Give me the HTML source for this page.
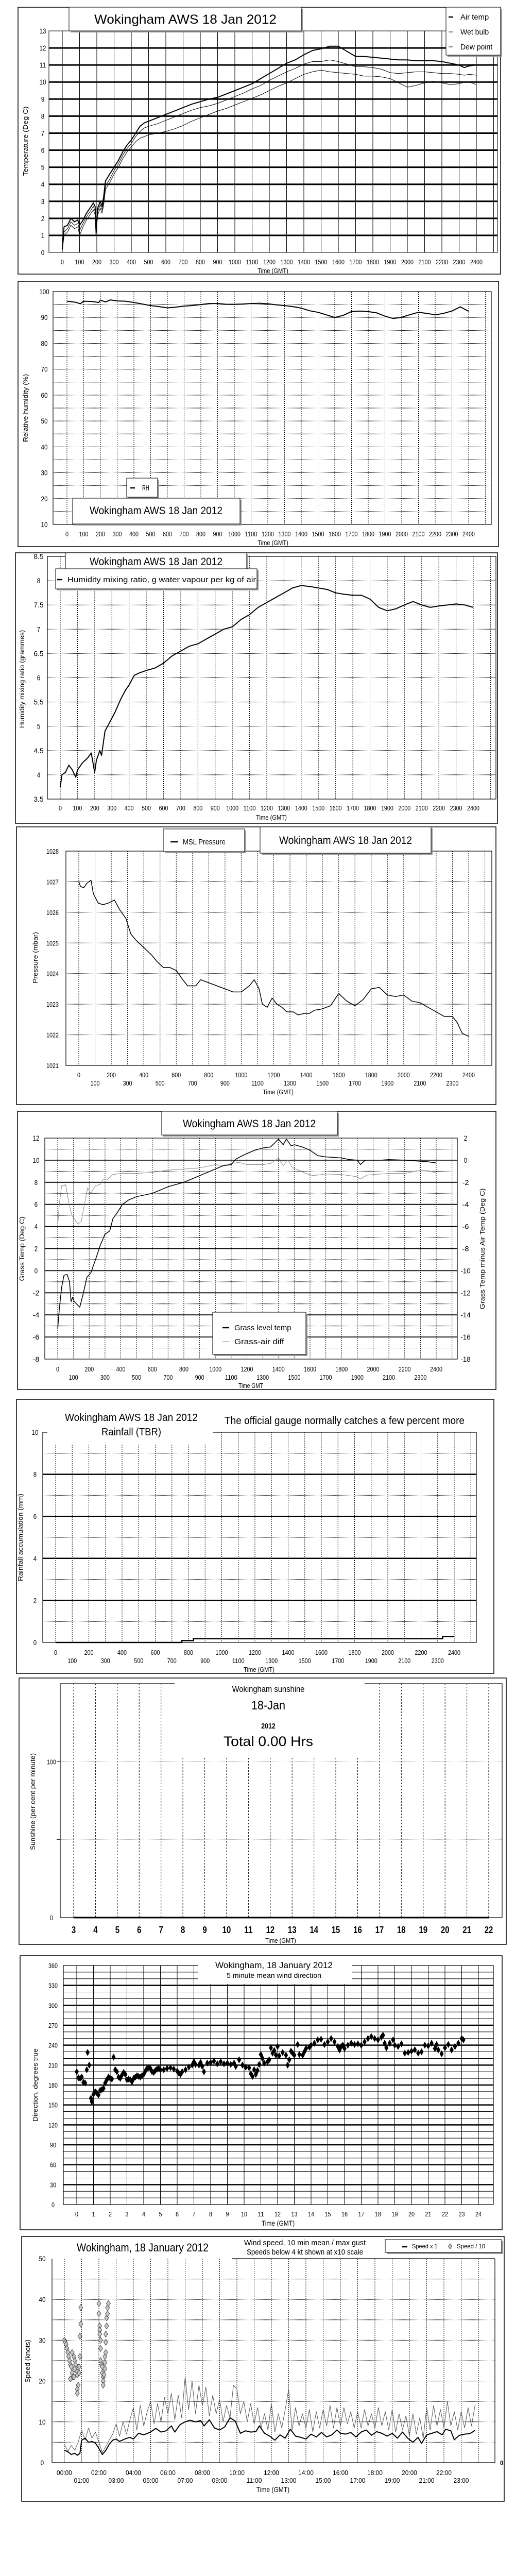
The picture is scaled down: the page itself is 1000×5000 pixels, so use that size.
<!DOCTYPE html>
<html><head><meta charset="utf-8">
<style>
html,body{margin:0;padding:0;background:#fff;}
svg{display:block;}
text{font-family:"Liberation Sans Narrow","Liberation Sans",sans-serif;fill:#000;}
.wide{font-family:"Liberation Sans",sans-serif;}
</style></head>
<body>
<svg id="chart" xmlns="http://www.w3.org/2000/svg" width="1000" height="5000" viewBox="0 0 1000 5000"></svg>
<script>
// ---------- DATA ----------
const tempHours=[0,0.1,0.3,0.5,0.7,0.9,1.0,1.2,1.4,1.6,1.8,1.9,1.95,2.05,2.2,2.3,2.4,2.5,2.75,3,3.25,3.5,3.75,4,4.25,4.5,4.75,5,5.5,6,6.5,7,7.5,8,8.5,9,9.5,10,10.5,11,11.5,12,12.5,13,13.5,14,14.5,15,15.5,16,16.5,17,17.5,18,18.5,19,19.5,20,20.5,21,21.5,22,22.5,23,23.3,23.6,24];
const airTemp=[0.2,1.5,1.6,2.0,1.8,1.9,1.6,1.9,2.3,2.6,2.9,2.7,1.4,2.6,3.0,2.7,3.3,4.2,4.6,5.0,5.4,5.9,6.3,6.6,7.0,7.4,7.6,7.7,7.9,8.1,8.3,8.5,8.7,8.85,9.0,9.1,9.3,9.5,9.7,9.9,10.2,10.5,10.8,11.1,11.3,11.6,11.85,11.95,12.1,12.1,11.8,11.5,11.5,11.45,11.4,11.35,11.3,11.3,11.25,11.25,11.25,11.2,11.1,11.0,10.85,10.95,11.0];
const wetBulb=[0.2,1.2,1.4,1.8,1.6,1.7,1.3,1.7,2.1,2.4,2.7,2.4,1.2,2.4,2.8,2.5,3.0,3.9,4.3,4.8,5.2,5.7,6.1,6.4,6.8,7.1,7.3,7.4,7.55,7.75,7.95,8.15,8.35,8.5,8.6,8.75,8.95,9.15,9.35,9.6,9.8,10.1,10.35,10.6,10.8,11.05,11.2,11.2,11.3,11.2,11.05,10.9,10.9,10.85,10.75,10.55,10.5,10.55,10.6,10.6,10.55,10.5,10.5,10.45,10.4,10.45,10.4];
const dewPoint=[0.1,1.0,1.2,1.6,1.4,1.5,1.0,1.5,1.9,2.2,2.5,2.2,1.0,2.2,2.6,2.3,2.8,3.7,4.1,4.6,5.0,5.5,5.9,6.2,6.5,6.7,6.8,6.9,7.0,7.1,7.25,7.45,7.7,7.9,8.1,8.3,8.45,8.65,8.85,9.05,9.25,9.5,9.75,9.95,10.2,10.45,10.6,10.7,10.6,10.55,10.5,10.45,10.35,10.35,10.3,10.2,9.95,9.7,9.8,9.95,10.05,9.95,9.85,9.9,10.0,10.0,9.85];
const rhHours=[0,0.5,0.8,1,1.5,1.9,2,2.3,2.6,3,3.5,4,4.5,5,5.5,6,6.5,7,7.5,8,8.5,9,9.5,10,10.5,11,11.5,12,12.5,13,13.5,14,14.5,15,15.5,16,16.5,17,17.5,18,18.5,19,19.5,20,20.5,21,21.5,22,22.5,23,23.5,24];
const rhValues=[96.3,95.9,95.3,96.3,96.2,95.8,96.7,96.0,96.8,96.4,96.3,95.8,95.2,94.6,94.2,93.7,94.0,94.4,94.6,95.0,95.4,95.4,95.1,95.1,95.2,95.4,95.5,95.3,94.9,94.6,94.2,93.6,92.6,92.0,91.0,90.0,90.8,92.3,92.5,92.3,91.8,90.5,89.6,90.1,91.1,92.0,91.6,91.0,91.6,92.5,94.1,92.4];
const mixHours=[0,0.1,0.3,0.5,0.7,0.9,1,1.3,1.6,1.8,2,2.1,2.3,2.4,2.6,2.9,3.2,3.5,3.8,4,4.3,4.6,5,5.5,6,6.5,7,7.5,8,8.5,9,9.5,10,10.5,11,11.5,12,12.5,13,13.5,14,14.5,15,15.5,16,16.5,17,17.5,18,18.5,19,19.5,20,20.5,21,21.5,22,22.5,23,23.5,24];
const mixValues=[3.75,4.0,4.05,4.2,4.1,3.95,4.1,4.25,4.35,4.45,4.05,4.3,4.5,4.4,4.9,5.1,5.3,5.55,5.75,5.85,6.05,6.1,6.15,6.2,6.3,6.45,6.55,6.65,6.7,6.8,6.9,7.0,7.05,7.2,7.3,7.45,7.55,7.65,7.75,7.85,7.9,7.88,7.85,7.82,7.75,7.72,7.7,7.7,7.62,7.45,7.38,7.42,7.5,7.57,7.5,7.45,7.48,7.5,7.52,7.5,7.45];
const presHours=[0,0.1,0.3,0.5,0.75,0.9,1.2,1.5,1.8,2.2,2.5,2.9,3.2,3.5,4,4.5,4.8,5.2,5.6,6,6.4,6.7,7.2,7.5,8,8.5,9,9.5,10,10.5,10.8,11.1,11.3,11.6,11.9,12.2,12.5,12.8,13.2,13.5,13.9,14.2,14.5,15,15.5,16,16.5,17,17.5,18,18.5,19,19.5,20,20.5,21,21.5,22,22.5,23,23.3,23.6,24];
const presValues=[1027.0,1026.85,1026.8,1026.95,1027.05,1026.6,1026.3,1026.25,1026.3,1026.4,1026.1,1025.8,1025.3,1025.1,1024.85,1024.6,1024.4,1024.2,1024.2,1024.1,1023.8,1023.6,1023.6,1023.8,1023.7,1023.6,1023.5,1023.4,1023.4,1023.6,1023.8,1023.5,1023.0,1022.9,1023.2,1023.0,1022.9,1022.75,1022.75,1022.65,1022.7,1022.7,1022.8,1022.85,1022.95,1023.35,1023.1,1022.95,1023.15,1023.5,1023.55,1023.3,1023.25,1023.3,1023.1,1023.05,1022.9,1022.75,1022.6,1022.6,1022.4,1022.05,1021.95];
const grassHours=[0,0.1,0.25,0.4,0.6,0.75,0.85,0.95,1.05,1.4,1.6,1.85,2.1,2.4,2.7,3.0,3.3,3.5,3.8,4.1,4.5,5,6,7,8,9,10,10.5,11,11.3,11.7,12,12.5,13,13.5,14,14.3,14.5,14.8,15,15.5,16,16.5,17,17.5,18,18.5,19,19.2,19.5,20,20.5,21,22,22.5,23,23.5,24];
const grassTemp=[-5.3,-3.5,-1.5,-0.4,-0.35,-1.0,-2.8,-2.4,-2.8,-3.3,-2.2,-0.6,-0.2,1.0,2.3,3.3,3.6,4.7,5.3,6.0,6.4,6.7,7.0,7.6,8.0,8.6,9.2,9.5,9.6,10.1,10.4,10.6,10.9,11.1,11.2,11.9,11.4,11.9,11.3,11.4,11.2,10.9,10.4,10.3,10.25,10.2,10.05,10.0,9.6,10.0,10.0,10.0,10.05,10.0,9.95,9.9,9.85,9.75];
const diffHours=[0,0.1,0.25,0.4,0.5,0.7,0.9,1.3,1.5,1.9,2.1,2.4,2.7,2.9,3.1,3.5,4,5,6,7,8,9,10,10.5,11,11.5,12,12.5,13,13.5,14,14.3,14.6,14.9,15.3,15.7,16.2,17,18,18.5,19,19.2,19.6,20,21,22,22.5,23,23.5,24];
const grassAirDiff=[-6.0,-4.0,-2.3,-2.3,-2.2,-3.8,-5.0,-5.8,-5.5,-2.5,-3.0,-2.3,-2.2,-1.7,-1.8,-1.3,-1.2,-1.2,-1.1,-0.9,-0.8,-0.7,-0.4,-0.5,-0.3,-0.2,-0.4,-0.4,-0.4,-0.3,0.2,-0.5,0.0,-0.7,-0.9,-1.2,-1.4,-1.25,-1.3,-1.4,-1.5,-1.7,-1.35,-1.3,-1.2,-1.2,-1.05,-0.9,-0.95,-1.15];
const rainHours=[0,7.6,8.3,23.3,24];
const rainValues=[0,0.09,0.18,0.28,0.28];
const sunHours=[3,22];
const sunValues=[0,0];
const sunTickLabels=[3,4,5,6,7,8,9,10,11,12,13,14,15,16,17,18,19,20,21,22];
const dirHours=[0.0,0.1,0.2,0.3,0.4,0.5,0.6,0.65,0.75,0.85,0.9,1.0,1.1,1.2,1.3,1.4,1.5,1.6,1.7,1.8,1.9,2.0,2.1,2.2,2.3,2.4,2.5,2.6,2.7,2.8,2.9,3.0,3.1,3.2,3.3,3.4,3.5,3.6,3.7,3.8,3.9,4.0,4.1,4.2,4.3,4.4,4.5,4.6,4.7,4.8,4.9,5.0,5.2,5.4,5.6,5.8,6.0,6.1,6.2,6.3,6.5,6.7,6.9,7.0,7.1,7.3,7.4,7.5,7.6,7.8,8.0,8.2,8.4,8.6,8.8,9.0,9.2,9.4,9.5,9.7,9.9,10.1,10.3,10.4,10.5,10.6,10.7,10.8,10.9,11.0,11.1,11.2,11.4,11.5,11.6,11.7,11.8,11.9,12.0,12.1,12.3,12.5,12.6,12.7,12.8,12.9,13.0,13.2,13.3,13.5,13.6,13.7,13.9,14.0,14.2,14.4,14.6,14.8,15.0,15.2,15.4,15.6,15.7,15.8,15.9,16.0,16.2,16.4,16.6,16.8,17.0,17.2,17.4,17.6,17.8,18.0,18.2,18.3,18.4,18.5,18.7,18.9,19.0,19.2,19.4,19.6,19.8,20.0,20.2,20.4,20.6,20.8,21.0,21.2,21.4,21.5,21.6,21.8,22.0,22.2,22.4,22.6,22.8,23.0,23.1];
const dirDegrees=[200,191,190,192,184,183,203,229,210,160,155,166,170,168,165,172,173,175,183,188,192,190,189,222,203,200,192,190,195,199,196,188,189,188,185,190,192,194,193,192,194,196,201,205,206,205,200,199,202,204,205,203,203,205,206,204,201,198,196,200,203,207,210,215,211,210,214,208,200,213,214,216,212,215,212,213,211,213,208,218,210,207,206,197,193,203,196,202,211,226,220,213,215,218,236,228,232,225,238,224,229,225,210,218,231,228,225,241,226,225,230,235,237,240,243,248,249,241,245,250,245,238,233,238,240,235,240,243,241,242,240,245,250,253,250,248,252,255,243,236,243,248,240,238,242,228,229,231,233,228,230,240,239,243,235,241,233,227,236,241,233,238,243,250,248];
const meanHours=[0,0.2,0.4,0.6,0.75,0.9,1.0,1.2,1.4,1.6,1.8,2.0,2.2,2.4,2.6,2.8,3.0,3.2,3.5,3.8,4.0,4.3,4.6,5.0,5.3,5.6,5.9,6.2,6.4,6.7,7.0,7.3,7.6,7.9,8.1,8.4,8.7,9.0,9.3,9.6,9.9,10.2,10.5,10.8,11.1,11.3,11.6,11.9,12.2,12.5,12.8,13.1,13.4,13.7,14.0,14.3,14.6,14.9,15.2,15.5,15.8,16.0,16.3,16.6,16.9,17.2,17.5,17.8,18.1,18.4,18.7,19.0,19.3,19.6,19.9,20.2,20.5,20.7,21.0,21.3,21.6,21.9,22.1,22.4,22.6,22.9,23.2,23.5,23.8];
const meanSpeed=[3.0,2.7,2.0,2.3,1.8,2.3,5.5,6.0,5.0,5.2,4.8,3.5,2.0,3.0,4.5,5.5,5.8,5.2,5.8,6.2,5.8,7.2,6.8,7.5,8.4,7.5,7.8,9.0,7.5,9.3,10.0,10.4,10.0,10.3,9.0,10.5,8.5,8.0,8.8,11.0,10.2,7.2,7.8,7.5,7.6,9.0,7.2,6.5,5.5,6.8,6.0,8.2,6.5,6.2,5.8,7.0,6.3,7.4,6.3,6.8,8.0,7.2,7.0,7.4,6.3,7.5,8.0,6.7,7.6,7.2,6.5,7.2,6.0,7.5,6.0,5.0,6.2,4.7,6.8,7.2,7.6,6.8,8.2,7.8,5.6,6.7,7.0,7.1,7.9];
const GUST_STEP_HOURS=0.2;
const gustSpeed=[4.5,2.8,4.2,3.0,5.0, 8.0,5.5,8.5,6.0,7.5, 5.0,2.5,4.0,5.5,7.0, 9.5,6.5,10.0,7.0,10.5, 13.5,8.0,14.0,9.0,12.5, 15.0,9.5,14.5,10.0,16.0, 12.0,17.0,10.5,16.5,11.0, 21.0,13.0,20.0,12.0,19.0, 14.0,18.5,11.5,16.5,12.0, 15.5,10.0,14.0,11.0,19.0, 18.0,12.0,15.0,10.0,14.5, 9.5,13.5,8.5,12.0,8.0, 14.5,7.5,12.0,8.5,13.0, 18.0,8.0,13.5,9.0,12.0, 8.5,13.0,7.5,12.5,8.5, 13.0,9.0,14.0,8.5,13.5, 9.0,13.5,9.5,12.5,8.5, 12.5,8.5,13.0,9.0,12.0, 8.5,13.5,9.0,12.5,8.0, 13.0,7.5,12.0,8.0,11.5, 6.5,12.0,7.0,11.0,6.0, 13.5,8.0,14.0,9.0,13.0, 8.5,15.0,9.0,12.5,8.0, 12.5,8.5,13.5,9.0,14.0];
const lowHours=[0.0,0.05,0.1,0.15,0.2,0.25,0.3,0.35,0.4,0.45,0.5,0.35,0.45,0.55,0.6,0.65,0.7,0.75,0.8,0.75,0.75,0.85,0.85,0.9,0.9,0.95,0.95,0.55,0.6,2.0,2.0,2.05,2.05,2.05,2.1,2.1,2.1,2.15,2.2,2.2,2.25,2.25,2.25,2.3,2.35,2.35,2.35,2.4,2.4,2.4,2.45,2.45,2.5,2.5,2.55];
const lowSpeedX10=[30,29.5,29,28,27,26,25,24,23.5,22,21,20.5,27,26,25,24,22.5,21.5,19,18,17,23.5,22,26,31,34,38,21,23,39,36.5,33.5,32.5,31.5,30,28,25,24,23.5,22,21,20,19,21.5,23,24.5,26,27,29.5,31.5,33.5,35.5,36.5,38,39];

// ---------- HELPERS ----------
const NS='http://www.w3.org/2000/svg';
const root=document.getElementById('chart');
function lin(d0,d1,r0,r1){return v=>r0+(v-d0)/(d1-d0)*(r1-r0);}
function mk(tag,a,parent){const e=document.createElementNS(NS,tag);for(const k in a)e.setAttribute(k,a[k]);(parent||root).appendChild(e);return e;}
function group(name){const g=mk('g',{});


return g;}
function ln(p,x1,y1,x2,y2,w,col,dash,name){const e=mk('line',{x1:x1,y1:y1,x2:x2,y2:y2,stroke:col||'#000','stroke-width':w||1},p);if(dash)e.setAttribute('stroke-dasharray',dash);


return e;}
function rect(p,x,y,w,h,fill,stroke,sw,name){const e=mk('rect',{x:x,y:y,width:w,height:h,fill:fill||'none',stroke:stroke||'none','stroke-width':sw||1},p);


return e;}
function tx(p,x,y,s,size,anchor,name,extra){const e=mk('text',{x:x,y:y,'font-size':size,'text-anchor':anchor||'middle'},p);e.textContent=s;
let hasLen=false;if(extra){for(const k in extra){e.setAttribute(k,extra[k]);if(k==='textLength'||k==='class')hasLen=true;}}
if(!hasLen){e.setAttribute('textLength',(s.length*size*0.46).toFixed(1));e.setAttribute('lengthAdjust','spacingAndGlyphs');}


return e;}
function vtitle(p,x,cy,s,len,name){const e=tx(p,x,cy,s,13,'middle',name,{transform:'rotate(-90 '+x+' '+cy+')',textLength:len,lengthAdjust:'spacingAndGlyphs',class:'wide'});return e;}
function shadowBox(p,x,y,w,h,name){rect(p,x+3,y+3,w,h,'#999','none',0,name+'-shadow');return rect(p,x,y,w,h,'#fff','#000',1,name);}
function poly(p,hours,vals,X,Y,col,w,name){let d='';for(let i=0;i<hours.length;i++){d+=(i?'L':'M')+X(hours[i]).toFixed(1)+','+Y(vals[i]).toFixed(1);}
const e=mk('path',{d:d,fill:'none',stroke:col,'stroke-width':w,'stroke-linejoin':'round'},p);


return e;}
function stepPoly(p,hours,vals,X,Y,col,w,name){let d='M'+X(hours[0])+','+Y(vals[0]);for(let i=1;i<hours.length;i++){d+='L'+X(hours[i])+','+Y(vals[i-1])+'L'+X(hours[i])+','+Y(vals[i]);}
const e=mk('path',{d:d,fill:'none',stroke:col,'stroke-width':w},p);


return e;}
function diamond(p,x,y,hw,hh,fill,stroke,name){const e=mk('path',{d:'M'+x+','+(y-hh)+'L'+(x+hw)+','+y+'L'+x+','+(y+hh)+'L'+(x-hw)+','+y+'Z',fill:fill,stroke:stroke,'stroke-width':0.8},p);


return e;}

// ---------- PANEL 1 ----------
(function(){
const g=group('temperature-chart');
rect(g,35,14,937,518,'#fff','#000',1.5,'temperature-panel-frame');
const X=lin(0,24,121,925),Y=lin(0,13,490,60);
for(let h=0;h<=25;h++)ln(g,X(h),60,X(h),490,1,'#000',null,'temp-v-grid');
for(let v=1;v<=12;v++)ln(g,95,Y(v),966,Y(v),3,'#000',null,'temp-h-grid');
rect(g,95,60,871,430,'none','#000',1,'temp-plot-area');
for(let v=0;v<=13;v++)tx(g,83,Y(v)+5,String(v),14,'middle','temp-y-tick');
for(let h=0;h<=24;h++)tx(g,X(h),513,String(h*100),13,'middle','temp-x-tick');
tx(g,530,530,'Time (GMT)',13,'middle','temp-x-title');
vtitle(g,54,274,'Temperature (Deg C)',135,'temp-y-title');
poly(g,tempHours,dewPoint,X,Y,'#000',1,'dew-point-line');
poly(g,tempHours,wetBulb,X,Y,'#000',1,'wet-bulb-line');
poly(g,tempHours,airTemp,X,Y,'#000',2,'air-temp-line');
shadowBox(g,134,14,451,46,'temp-title-box');
tx(g,360,46,'Wokingham AWS 18 Jan 2012',25,'middle','temp-title',{textLength:354,lengthAdjust:'spacingAndGlyphs'});
shadowBox(g,866,14,106,93,'temp-legend');
ln(g,871,33,880,33,2.5,'#000',null,'legend-air-temp-swatch');tx(g,894,38,'Air temp',15,'start','legend-air-temp');
ln(g,871,62,880,62,1,'#000',null,'legend-wet-bulb-swatch');tx(g,894,67,'Wet bulb',15,'start','legend-wet-bulb');
ln(g,871,91,880,91,1,'#000',null,'legend-dew-point-swatch');tx(g,894,96,'Dew point',15,'start','legend-dew-point');
})();

// ---------- PANEL 2 ----------
(function(){
const g=group('humidity-chart');
rect(g,35,546,933,515,'#fff','#000',1.5,'rh-panel-frame');
const X=lin(0,24,130,910),Y=lin(10,100,1018,566);
for(let h=0;h<=25;h++)ln(g,X(h),566,X(h),1018,1,'#000','2,2','rh-v-grid');
for(let v=15;v<100;v+=5)ln(g,103,Y(v),954,Y(v),1,'#000','1,1','rh-h-grid');
rect(g,103,566,851,452,'none','#000',1.2,'rh-plot-area');
for(let v=10;v<=100;v+=10)tx(g,86,Y(v)+5,String(v),14,'middle','rh-y-tick');
for(let h=0;h<=24;h++)tx(g,X(h),1041,String(h*100),13,'middle','rh-x-tick');
tx(g,530,1058,'Time (GMT)',13,'middle','rh-x-title');
vtitle(g,54,792,'Relative humidity (%)',132,'rh-y-title');
poly(g,rhHours,rhValues,X,Y,'#000',2,'rh-line');
shadowBox(g,246,928,60,37,'rh-legend');
ln(g,253,947,262,947,2.5,'#000',null,'legend-rh-swatch');tx(g,276,952,'RH',15,'start','legend-rh');
shadowBox(g,141,967,325,50,'rh-title-box');
tx(g,303,998,'Wokingham AWS 18 Jan 2012',21,'middle','rh-title',{textLength:258,lengthAdjust:'spacingAndGlyphs'});
})();

// ---------- PANEL 3 ----------
(function(){
const g=group('mixing-ratio-chart');
rect(g,30,1073,936,525,'#fff','#000',1.5,'mix-panel-frame');
const X=lin(0,24,117,919),Y=lin(3.5,8.5,1551,1080);
for(let h=0;h<=25;h++)ln(g,X(h),1080,X(h),1551,1,'#000','2,2','mix-v-grid');
for(let v=4;v<8.5;v+=0.5)ln(g,92,Y(v),963,Y(v),1,'#000','1,1','mix-h-grid');
rect(g,92,1080,871,471,'none','#000',1.2,'mix-plot-area');
for(let v=3.5;v<=8.5;v+=0.5)tx(g,75,Y(v)+5,String(v),14,'middle','mix-y-tick');
for(let h=0;h<=24;h++)tx(g,X(h),1573,String(h*100),13,'middle','mix-x-tick');
tx(g,527,1591,'Time (GMT)',13,'middle','mix-x-title');
vtitle(g,47,1318,'Humidity mixing ratio (grammes)',190,'mix-y-title');
poly(g,mixHours,mixValues,X,Y,'#000',2,'mixing-ratio-line');
shadowBox(g,127,1073,352,31,'mix-title-box');
tx(g,303,1097,'Wokingham AWS 18 Jan 2012',21,'middle','mix-title',{textLength:258,lengthAdjust:'spacingAndGlyphs'});
shadowBox(g,108,1104,391,39,'mix-legend');
ln(g,111,1125,121,1125,2.5,'#000',null,'legend-mix-swatch');
tx(g,131,1130,'Humidity mixing ratio, g water vapour per kg of air',15,'start','legend-mixing-ratio',{textLength:366,lengthAdjust:'spacingAndGlyphs'});
})();

// ---------- PANEL 4 ----------
(function(){
const g=group('pressure-chart');
rect(g,32,1605,931,539,'#fff','#000',1.5,'pres-panel-frame');
const X=lin(0,24,153,910),Y=lin(1021,1028,2068,1652);
for(let h=0;h<=25;h++)ln(g,X(h),1652,X(h),2068,1,'#000','2,2','pres-v-grid');
for(let v=1022;v<1028;v++)ln(g,128,Y(v),955,Y(v),1,'#000','1,1','pres-h-grid');
rect(g,128,1652,827,416,'none','#000',1.2,'pres-plot-area');
for(let v=1021;v<=1028;v++)tx(g,102,Y(v)+5,String(v),13,'middle','pres-y-tick');
for(let h=0;h<=24;h++)tx(g,X(h),h%2?2107:2091,String(h*100),13,'middle','pres-x-tick');
tx(g,540,2124,'Time (GMT)',13,'middle','pres-x-title');
vtitle(g,73,1859,'Pressure (mbar)',100,'pres-y-title');
poly(g,presHours,presValues,X,Y,'#000',1.5,'msl-pressure-line');
shadowBox(g,317,1609,158,44,'pres-legend');
ln(g,331,1634,346,1634,2.5,'#000',null,'legend-pressure-swatch');tx(g,355,1639,'MSL Pressure',15,'start','legend-msl-pressure');
shadowBox(g,505,1605,332,51,'pres-title-box');
tx(g,671,1638,'Wokingham AWS 18 Jan 2012',21,'middle','pres-title',{textLength:258,lengthAdjust:'spacingAndGlyphs'});
})();

// ---------- PANEL 5 ----------
(function(){
const g=group('grass-temp-chart');
rect(g,34,2157,929,540,'#fff','#000',1.5,'grass-panel-frame');
const X=lin(0,24,112,847),Y=lin(-8,12,2638,2209),YR=lin(-18,2,2638,2209);
for(let h=0;h<=25;h++)ln(g,X(h),2209,X(h),2638,1,'#000','2,2','grass-v-grid');
for(let v=-7;v<12;v++)ln(g,87,Y(v),888,Y(v),v%2?1:1.8,'#000',v%2?'1,1':null,'grass-h-grid');
rect(g,87,2209,801,429,'none','#000',1.2,'grass-plot-area');
for(let v=-8;v<=12;v+=2)tx(g,70,Y(v)+5,String(v),14,'middle','grass-left-tick');
for(let v=-18;v<=2;v+=2)tx(g,904,YR(v)+5,String(v),14,'middle','grass-right-tick');
for(let h=0;h<=24;h++)tx(g,X(h),h%2?2678:2662,String(h*100),13,'middle','grass-x-tick');
tx(g,487,2694,'Time GMT',13,'middle','grass-x-title');
vtitle(g,47,2424,'Grass Temp (Deg C)',125,'grass-left-title');
vtitle(g,941,2424,'Grass Temp minus Air Temp (Deg C)',235,'grass-right-title');
poly(g,diffHours,grassAirDiff,X,YR,'#888',1,'grass-air-diff-line');
poly(g,grassHours,grassTemp,X,Y,'#000',1.5,'grass-level-temp-line');
shadowBox(g,314,2157,341,46,'grass-title-box');
tx(g,484,2188,'Wokingham AWS 18 Jan 2012',21,'middle','grass-title',{textLength:258,lengthAdjust:'spacingAndGlyphs'});
shadowBox(g,413,2547,181,82,'grass-legend');
ln(g,432,2577,445,2577,2.5,'#000',null,'legend-grass-swatch');tx(g,455,2582,'Grass level temp',15,'start','legend-grass-level-temp');
ln(g,432,2604,445,2604,1,'#888',null,'legend-diff-swatch');tx(g,455,2609,'Grass-air diff',15,'start','legend-grass-air-diff');
})();

// ---------- PANEL 6 ----------
(function(){
const g=group('rainfall-chart');
rect(g,32,2716,927,532,'#fff','#000',1.5,'rain-panel-frame');
const X=lin(0,24,108,882),Y=lin(0,10,3188,2780);
for(let h=0;h<=25;h++)ln(g,X(h),2780,X(h),3188,1,'#000','2,2','rain-v-grid');
for(let v=1;v<10;v++)ln(g,83,Y(v),925,Y(v),v%2?1:2.5,'#000',v%2?'1,1':null,'rain-h-grid');
rect(g,83,2780,842,408,'none','#000',1.2,'rain-plot-area');
rect(g,92,2776,321,26,'#fff','none',0,'rain-title-mask');
for(let v=0;v<=10;v+=2)tx(g,68,Y(v)+5,String(v),14,'middle','rain-y-tick');
for(let h=0;h<=24;h++)tx(g,X(h),h%2?3228:3212,String(h*100),13,'middle','rain-x-tick');
tx(g,503,3245,'Time (GMT)',13,'middle','rain-x-title');
vtitle(g,44,2984,'Rainfall accumulation (mm)',170,'rain-y-title');
stepPoly(g,rainHours,rainValues,X,Y,'#000',2.5,'rain-accumulation-line');
tx(g,255,2758,'Wokingham AWS 18 Jan 2012',20,'middle','rain-title',{textLength:258,lengthAdjust:'spacingAndGlyphs'});
tx(g,255,2786,'Rainfall (TBR)',20,'middle','rain-subtitle',{textLength:116,lengthAdjust:'spacingAndGlyphs'});
tx(g,669,2764,'The official gauge normally catches a few percent more',20,'middle','rain-note',{textLength:466,lengthAdjust:'spacingAndGlyphs'});
})();

// ---------- PANEL 7 ----------
(function(){
const g=group('sunshine-chart');
rect(g,37,3257,946,517,'#fff','#000',1.5,'sun-panel-frame');
const X=lin(3,22,143,949),Y=lin(0,150,3722,3268);
for(let i=0;i<sunTickLabels.length;i++)ln(g,X(sunTickLabels[i]),3268,X(sunTickLabels[i]),3722,1,'#000','3,3','sun-v-grid');
ln(g,117,Y(50),975,Y(50),1,'#aaa','1,1','sun-h-grid');
ln(g,117,Y(100),975,Y(100),1,'#aaa','1,1','sun-h-grid');
rect(g,117,3268,858,454,'none','#000',1.2,'sun-plot-area');
ln(g,110,Y(50),117,Y(50),1,'#000',null,'sun-y-tickmark');ln(g,110,Y(100),117,Y(100),1,'#000',null,'sun-y-tickmark');
rect(g,339,3263,369,70,'#fff','none',0,'sun-title-mask');
rect(g,354,3333,341,76,'#fff','none',0,'sun-title-mask-lower');
tx(g,100,Y(100)+5,'100',13,'middle','sun-y-tick');
tx(g,100,Y(0)+5,'0',13,'middle','sun-y-tick');
for(let i=0;i<sunTickLabels.length;i++)tx(g,X(sunTickLabels[i]),3752,String(sunTickLabels[i]),18,'middle','sun-x-tick',{'font-weight':'bold'});
tx(g,545,3771,'Time (GMT)',13,'middle','sun-x-title');
vtitle(g,68,3497,'Sunshine (per cent per minute)',188,'sun-y-title');
poly(g,sunHours,sunValues,X,Y,'#000',3,'sunshine-line');
tx(g,521,3284,'Wokingham sunshine',17,'middle','sun-title');
tx(g,521,3318,'18-Jan',24,'middle','sun-date');
tx(g,521,3355,'2012',15,'middle','sun-year',{'font-weight':'bold'});
tx(g,521,3389,'Total 0.00 Hrs',27,'middle','sun-total');
})();

// ---------- PANEL 8 ----------
(function(){
const g=group('wind-direction-chart');
rect(g,39,3796,936,532,'#fff','#000',1.5,'dir-panel-frame');
const X=lin(0,24,149,929),Y=lin(0,360,4279,3815);
for(let h=0;h<=24;h++)ln(g,X(h),3815,X(h),4279,1,'#000',null,'dir-v-grid');
for(let v=10;v<360;v+=10)ln(g,123,Y(v),958,Y(v),v%30?1:2.5,'#000',null,'dir-h-grid');
rect(g,123,3815,835,464,'none','#000',1.2,'dir-plot-area');
rect(g,384,3808,300,43,'#fff','none',0,'dir-title-mask');
for(let v=0;v<=360;v+=30)tx(g,103,Y(v)+5,String(v),13,'middle','dir-y-tick');
for(let h=0;h<=24;h++)tx(g,X(h),4302,String(h),13,'middle','dir-x-tick');
tx(g,540,4320,'Time (GMT)',14,'middle','dir-x-title');
vtitle(g,73,4047,'Direction, degrees true',142,'dir-y-title');
for(let i=0;i<dirHours.length;i++)diamond(g,X(dirHours[i]),Y(dirDegrees[i]),3.5,6,'#000','#000','direction-point');
tx(g,532,3820,'Wokingham,  18 January 2012',17,'middle','dir-title',{textLength:228,lengthAdjust:'spacingAndGlyphs'});
tx(g,532,3839,'5 minute mean wind direction',14,'middle','dir-subtitle',{textLength:184,lengthAdjust:'spacingAndGlyphs'});
})();

// ---------- PANEL 9 ----------
(function(){
const g=group('wind-speed-chart');
rect(g,42,4341,937,514,'#fff','#000',1.5,'speed-panel-frame');
const X=lin(0,24,125,929),Y=lin(0,50,4780,4384);
for(let h=0;h<=24;h++)ln(g,X(h),4384,X(h),4780,1,'#000','2,2','speed-v-grid');
for(let v=5;v<50;v+=5)ln(g,101,Y(v),961,Y(v),1,'#000','1,1','speed-h-grid');
ln(g,101,4384,101,4780,1.2,'#000',null,'speed-left-axis');
ln(g,101,4780,961,4780,1.2,'#000',null,'speed-bottom-axis');
ln(g,961,4384,961,4780,1.2,'#000',null,'speed-right-axis');
ln(g,450,4384,961,4384,1.2,'#000',null,'speed-top-axis');
for(let v=0;v<=50;v+=10)tx(g,82,Y(v)+5,String(v),14,'middle','speed-y-tick');
tx(g,974,4785,'0',13,'middle','speed-right-tick',{'font-weight':'bold'});
for(let h=0;h<24;h++)tx(g,X(h),h%2?4819:4804,(h<10?'0':'')+h+':00',13,'middle','speed-x-tick');
tx(g,530,4837,'Time (GMT)',14,'middle','speed-x-title');
vtitle(g,58,4583,'Speed (knots)',84,'speed-y-title');
const gustHours=gustSpeed.map((v,i)=>i*GUST_STEP_HOURS);
poly(g,gustHours,gustSpeed,X,Y,'#555',1,'max-gust-line');
poly(g,meanHours,meanSpeed,X,Y,'#000',2,'mean-speed-line');
for(let i=0;i<lowHours.length;i++)diamond(g,X(lowHours[i]),Y(lowSpeedX10[i]),4,6,'#c8c8c8','#333','low-speed-point');
tx(g,277,4370,'Wokingham,  18 January 2012',22,'middle','speed-title',{textLength:256,lengthAdjust:'spacingAndGlyphs'});
tx(g,592,4358,'Wind speed, 10 min mean / max gust',15,'middle','speed-subtitle-1',{textLength:236,lengthAdjust:'spacingAndGlyphs'});
tx(g,592,4376,'Speeds below 4 kt shown at x10 scale',15,'middle','speed-subtitle-2',{textLength:226,lengthAdjust:'spacingAndGlyphs'});
shadowBox(g,748,4347,226,25,'speed-legend');
ln(g,781,4361,791,4361,2.5,'#000',null,'legend-speed-x1-swatch');tx(g,800,4364,'Speed x 1',12,'start','legend-speed-x1');
diamond(g,874,4360,3.5,5,'#c8c8c8','#333','legend-speed-div10-swatch');tx(g,887,4364,'Speed / 10',12,'start','legend-speed-div10');
})();
</script>
</body></html>
